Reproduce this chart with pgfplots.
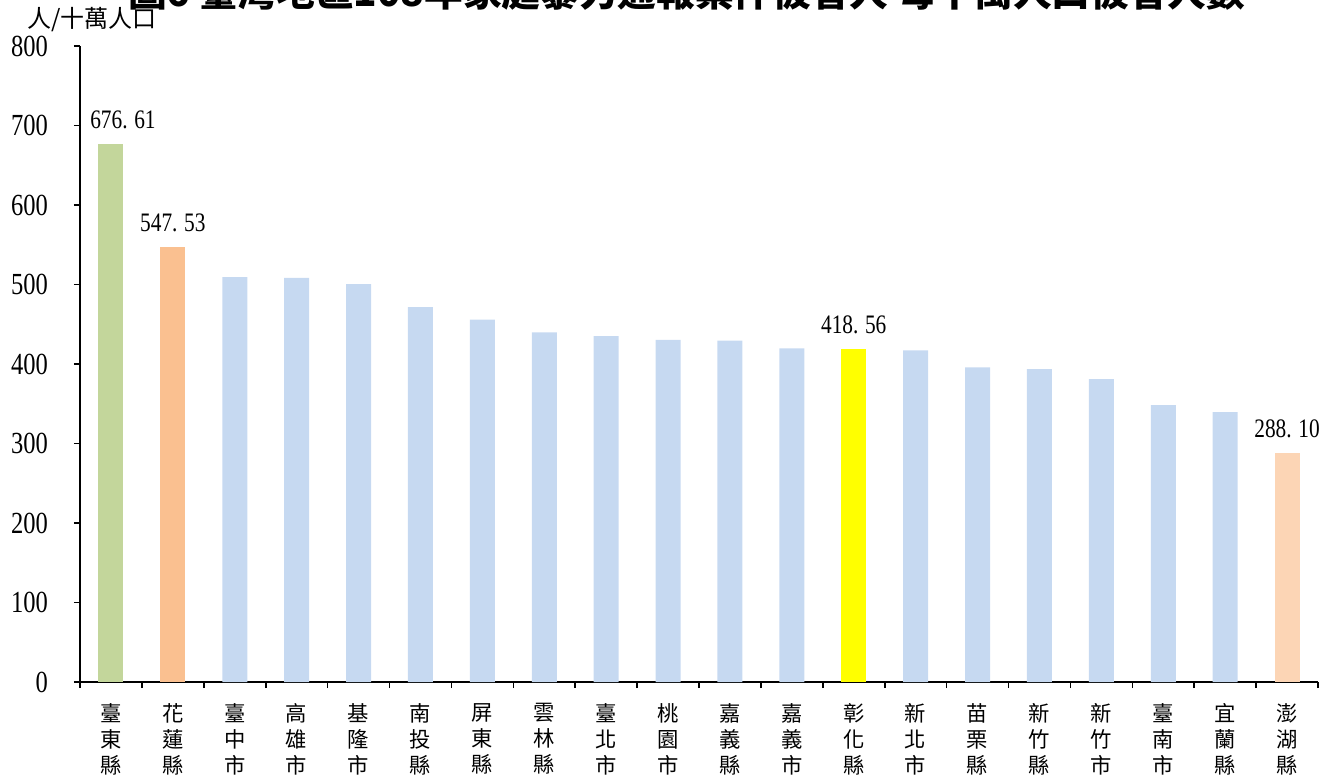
\documentclass[border=0pt]{standalone}
\usepackage{fontspec}
\setmainfont[FakeStretch=0.8]{Liberation Serif}
\newfontfamily\cjk{Noto Sans CJK TC}
\usepackage{pgfplots}
\pgfplotsset{compat=1.18}
\definecolor{cblue}{RGB}{198,217,241}
\definecolor{cgreen}{RGB}{195,214,155}
\definecolor{corange}{RGB}{250,192,144}
\definecolor{cpeach}{RGB}{252,213,181}
\definecolor{cyellow}{RGB}{255,255,0}
\begin{document}
\begin{tikzpicture}
\path[use as bounding box] (-60pt,-69pt) rectangle (939.75pt,511.5pt);
\begin{axis}[
  at={(0,0)}, anchor=south west,
  scale only axis, width=928.5pt, height=477pt,
  xmin=-0.5, xmax=19.5, ymin=0, ymax=800,
  axis lines*=left,
  axis line style={line width=1.2pt},
  ybar, bar width=18.75pt,
  ytick={0,100,...,800},
  /pgf/number format/assume math mode=true,
  yticklabel style={font=\fontsize{23}{25}\selectfont, xshift=-16pt},
  xtick={0,...,19},
  xticklabels={{臺\\東\\縣},{花\\蓮\\縣},{臺\\中\\市},{高\\雄\\市},{基\\隆\\市},{南\\投\\縣},{屏\\東\\縣},{雲\\林\\縣},{臺\\北\\市},{桃\\園\\市},{嘉\\義\\縣},{嘉\\義\\市},{彰\\化\\縣},{新\\北\\市},{苗\\栗\\縣},{新\\竹\\縣},{新\\竹\\市},{臺\\南\\市},{宜\\蘭\\縣},{澎\\湖\\縣}},
  xticklabel style={align=center, font=\cjk\fontsize{16}{19.5}\selectfont, yshift=-8pt},
  minor xtick={-0.5,0.5,...,19.5},
  major x tick style={draw=none},
  minor x tick style={draw=black, line width=1.2pt},
  y tick style={draw=black, line width=1.2pt},
  tick align=outside,
  major tick length=4.5pt, minor tick length=4.5pt,
  every node near coord/.append style={font=\fontsize{20}{22}\selectfont, anchor=south, inner sep=0pt, yshift=11pt, black},
  clip=false,
]
\addplot[fill=cgreen, draw=none, bar shift=0pt, nodes near coords, point meta=explicit symbolic,
  every node near coord/.append style={xshift=9pt}]
  coordinates {(0,676.61) [{676.\kern5pt61}]};
\addplot[fill=corange, draw=none, bar shift=0pt, nodes near coords, point meta=explicit symbolic]
  coordinates {(1,547.53) [{547.\kern5pt53}]};
\addplot[fill=cblue, draw=none, bar shift=0pt] coordinates {
  (2,509.4) (3,508.2) (4,500.6) (5,471.7) (6,455.7) (7,439.9) (8,435.2) (9,430.3)
  (10,429.4) (11,419.7) (13,417.2) (14,395.8) (15,393.7) (16,381.1) (17,348.4) (18,339.6)};
\addplot[fill=cyellow, draw=none, bar shift=0pt, nodes near coords, point meta=explicit symbolic]
  coordinates {(12,418.56) [{418.\kern5pt56}]};
\addplot[fill=cpeach, draw=none, bar shift=0pt, nodes near coords, point meta=explicit symbolic]
  coordinates {(19,288.10) [{288.\kern5pt10}]};
\end{axis}
\node[font=\cjk\fontsize{18}{20}\selectfont, inner sep=0pt] at (9pt,497pt) {人/十萬人口};
\node[font=\cjk\bfseries\fontsize{29}{31}\selectfont, inner sep=0pt] at (455pt,517.5pt) {圖6\ 臺灣地區108年家庭暴力通報案件被害人\ 每十萬人口被害人數};
\end{tikzpicture}
\end{document}
